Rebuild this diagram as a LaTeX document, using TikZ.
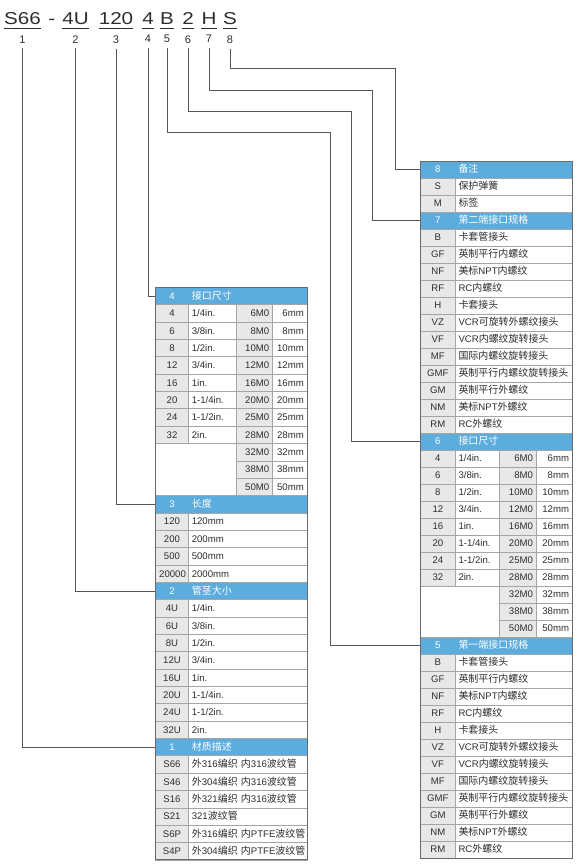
\documentclass[tikz,border=0pt]{standalone}
\usepackage{fontspec}
\setmainfont{Liberation Sans}
\newfontfamily\cjk[Scale=1.04]{Noto Sans CJK SC}
\newfontfamily\codefont[FakeStretch=1.2]{Liberation Sans}
\usetikzlibrary{positioning}
\definecolor{SpecBlue}{RGB}{92,172,222}
\definecolor{SpecGrey}{RGB}{232,232,232}
\definecolor{SpecGrid}{RGB}{165,165,165}
\definecolor{SpecFrame}{RGB}{105,105,105}
\definecolor{SpecLine}{RGB}{85,85,85}
\definecolor{SpecInk}{RGB}{45,45,45}

\newcommand{\zh}[1]{{\cjk #1}}
% table geometry, in pixels of the sheet
\def\LXa{155.7}\def\LXb{188.3}\def\LXc{236}\def\LXd{272.7}\def\LXe{307.3}
\def\LTop{287.3}\def\LStep{17.35}
\def\RXa{420.7}\def\RXb{455}\def\RXc{499.5}\def\RXd{536.5}\def\RXe{572.5}
\def\RTop{161}\def\RStep{17}

\newcommand{\usegeom}[1]{%
  \edef\gXa{\csname #1Xa\endcsname}\edef\gXb{\csname #1Xb\endcsname}%
  \edef\gXc{\csname #1Xc\endcsname}\edef\gXd{\csname #1Xd\endcsname}%
  \edef\gXe{\csname #1Xe\endcsname}%
  \edef\gTop{\csname #1Top\endcsname}\edef\gStep{\csname #1Step\endcsname}}
\newcommand{\rowtop}[2]{\usegeom{#1}\pgfmathtruncatemacro{\gi}{#2}\pgfmathsetmacro{\gy}{\gTop+\gi*\gStep}}

% style, name, x0, x1, top, height, text
\newcommand{\cellat}[7]{%
  \pgfmathsetmacro{\celltw}{#4-#3-7}%
  \node[#1,text width=\celltw pt,minimum height=#6pt] (#2) at ({(#3+#4)/2},{#5+#6/2}) {\mbox{#7}};}

\newcommand{\specheader}[4]{% side, row, number, label
  \rowtop{#1}{#2}%
  \cellat{hdrcell}{h#3}{\gXa}{\gXe}{\gy}{\gStep}{}%
  \cellat{hdrnum}{h#3n}{\gXa}{\gXb}{\gy}{\gStep}{#3}%
  \cellat{hdrtext}{h#3t}{\gXb}{\gXe}{\gy}{\gStep}{\zh{#4}}}
\newcommand{\specrow}[4]{% side, row, key, text
  \rowtop{#1}{#2}%
  \cellat{keycell}{#1k\gi}{\gXa}{\gXb}{\gy}{\gStep}{#3}%
  \cellat{txtcell}{#1t\gi}{\gXb}{\gXe}{\gy}{\gStep}{#4}}
\newcommand{\sizerow}[6]{% side, row, key, inch, metric code, mm
  \rowtop{#1}{#2}%
  \cellat{keycell}{#1k\gi}{\gXa}{\gXb}{\gy}{\gStep}{#3}%
  \cellat{txtcell}{#1t\gi}{\gXb}{\gXc}{\gy}{\gStep}{#4}%
  \cellat{codecell}{#1c\gi}{\gXc}{\gXd}{\gy}{\gStep}{#5}%
  \cellat{mmcell}{#1m\gi}{\gXd}{\gXe}{\gy}{\gStep}{#6}}
\newcommand{\sizeonly}[4]{% side, row, metric code, mm
  \rowtop{#1}{#2}%
  \cellat{codecell}{#1c\gi}{\gXc}{\gXd}{\gy}{\gStep}{#3}%
  \cellat{mmcell}{#1m\gi}{\gXd}{\gXe}{\gy}{\gStep}{#4}}
\newcommand{\specframe}[2]{% side, rows
  \usegeom{#1}\draw[frame] (\gXa,\gTop) rectangle (\gXe,{\gTop+#2*\gStep});}
\newcommand{\sizeblock}[2]{% side, first row
  \sizerow{#1}{#2}{4}{1/4in.}{6M0}{6mm}
  \sizerow{#1}{#2+1}{6}{3/8in.}{8M0}{8mm}
  \sizerow{#1}{#2+2}{8}{1/2in.}{10M0}{10mm}
  \sizerow{#1}{#2+3}{12}{3/4in.}{12M0}{12mm}
  \sizerow{#1}{#2+4}{16}{1in.}{16M0}{16mm}
  \sizerow{#1}{#2+5}{20}{1-1/4in.}{20M0}{20mm}
  \sizerow{#1}{#2+6}{24}{1-1/2in.}{25M0}{25mm}
  \sizerow{#1}{#2+7}{32}{2in.}{28M0}{28mm}
  \sizeonly{#1}{#2+8}{32M0}{32mm}
  \sizeonly{#1}{#2+9}{38M0}{38mm}
  \sizeonly{#1}{#2+10}{50M0}{50mm}}
\newcommand{\fittingblock}[2]{% side, first row
  \specrow{#1}{#2}{B}{\zh{卡套管接头}}
  \specrow{#1}{#2+1}{GF}{\zh{英制平行内螺纹}}
  \specrow{#1}{#2+2}{NF}{\zh{美标}NPT\zh{内螺纹}}
  \specrow{#1}{#2+3}{RF}{RC\zh{内螺纹}}
  \specrow{#1}{#2+4}{H}{\zh{卡套接头}}
  \specrow{#1}{#2+5}{VZ}{VCR\zh{可旋转外螺纹接头}}
  \specrow{#1}{#2+6}{VF}{VCR\zh{内螺纹旋转接头}}
  \specrow{#1}{#2+7}{MF}{\zh{国际内螺纹旋转接头}}
  \specrow{#1}{#2+8}{GMF}{\zh{英制平行内螺纹旋转接头}}
  \specrow{#1}{#2+9}{GM}{\zh{英制平行外螺纹}}
  \specrow{#1}{#2+10}{NM}{\zh{美标}NPT\zh{外螺纹}}
  \specrow{#1}{#2+11}{RM}{RC\zh{外螺纹}}}

\begin{document}
\begin{tikzpicture}[
    x=1pt,y=-1pt,
    cellbase/.style={inner xsep=3.5pt,inner ysep=0pt,text height=6.9pt,text depth=0pt,
      font=\fontsize{9.6}{11}\selectfont,text=SpecInk},
    keycell/.style={cellbase,fill=SpecGrey,draw=SpecGrid,line width=0.6pt,align=center},
    txtcell/.style={cellbase,fill=white,draw=SpecGrid,line width=0.6pt,align=left},
    codecell/.style={cellbase,fill=SpecGrey,draw=SpecGrid,line width=0.6pt,align=right},
    mmcell/.style={cellbase,fill=white,draw=SpecGrid,line width=0.6pt,align=right},
    hdrcell/.style={cellbase,fill=SpecBlue,draw=SpecGrid,line width=0.6pt},
    hdrnum/.style={cellbase,text=white,align=center},
    hdrtext/.style={cellbase,text=white,align=left},
    frame/.style={draw=SpecFrame,line width=0.9pt},
    code/.style={font=\codefont\fontsize{17.2}{19}\selectfont,text=SpecInk,inner xsep=0pt,inner ysep=3.5pt,anchor=base},
    digit/.style={font=\fontsize{11}{12}\selectfont,text=SpecInk,inner sep=5pt},
    uline/.style={draw=SpecInk,line width=0.8pt},
    conn/.style={draw=SpecLine,line width=0.8pt}
  ]
  \useasboundingbox (0,0) rectangle (579,864);

  % order code, set on one baseline
  \node[code] (p1) at (22.5,25) {S66};
  \node[code] (hy) at (51.7,25) {-};
  \node[code] (p2) at (75.5,25) {4U};
  \node[code] (p3) at (116,25) {120};
  \node[code] (p4) at (148,25) {4};
  \node[code] (p5) at (167,25) {B};
  \node[code] (p6) at (188,25) {2};
  \node[code] (p7) at (209,25) {H};
  \node[code] (p8) at (230,25) {S};
  \foreach \i in {1,...,8} {
    \draw[uline] (p\i.south west) -- (p\i.south east);
    \node[digit,below=1.5pt of p\i] (n\i) {\i};
  }

  % left sheet
  \specheader{L}{0}{4}{接口尺寸}
  \sizeblock{L}{1}
  \specheader{L}{12}{3}{长度}
  \specrow{L}{13}{120}{120mm}
  \specrow{L}{14}{200}{200mm}
  \specrow{L}{15}{500}{500mm}
  \specrow{L}{16}{20000}{2000mm}
  \specheader{L}{17}{2}{管茎大小}
  \specrow{L}{18}{4U}{1/4in.}
  \specrow{L}{19}{6U}{3/8in.}
  \specrow{L}{20}{8U}{1/2in.}
  \specrow{L}{21}{12U}{3/4in.}
  \specrow{L}{22}{16U}{1in.}
  \specrow{L}{23}{20U}{1-1/4in.}
  \specrow{L}{24}{24U}{1-1/2in.}
  \specrow{L}{25}{32U}{2in.}
  \specheader{L}{26}{1}{材质描述}
  \specrow{L}{27}{S66}{\zh{外}316\zh{编织} \zh{内}316\zh{波纹管}}
  \specrow{L}{28}{S46}{\zh{外}304\zh{编织} \zh{内}316\zh{波纹管}}
  \specrow{L}{29}{S16}{\zh{外}321\zh{编织} \zh{内}316\zh{波纹管}}
  \specrow{L}{30}{S21}{321\zh{波纹管}}
  \specrow{L}{31}{S6P}{\zh{外}316\zh{编织} \zh{内}PTFE\zh{波纹管}}
  \specrow{L}{32}{S4P}{\zh{外}304\zh{编织} \zh{内}PTFE\zh{波纹管}}
  \specframe{L}{33}

  % right sheet
  \specheader{R}{0}{8}{备注}
  \specrow{R}{1}{S}{\zh{保护弹簧}}
  \specrow{R}{2}{M}{\zh{标签}}
  \specheader{R}{3}{7}{第二端接口规格}
  \fittingblock{R}{4}
  \specheader{R}{16}{6}{接口尺寸}
  \sizeblock{R}{17}
  \specheader{R}{28}{5}{第一端接口规格}
  \fittingblock{R}{29}
  \specframe{R}{41}

  % leader lines
  \draw[conn] (n1.south) |- (h1.west);
  \draw[conn] (n2.south) |- (h2.west);
  \draw[conn] (n3.south) |- (h3.west);
  \draw[conn] (n4.south) |- (h4.west);
  \draw[conn] (n5.south) |- (330.7,132.3) |- (h5.west);
  \draw[conn] (n6.south) |- (351.7,111) |- (h6.west);
  \draw[conn] (n7.south) |- (372.7,90) |- (h7.west);
  \draw[conn] (n8.south) |- (395,68.3) |- (h8.west);
\end{tikzpicture}
\end{document}
